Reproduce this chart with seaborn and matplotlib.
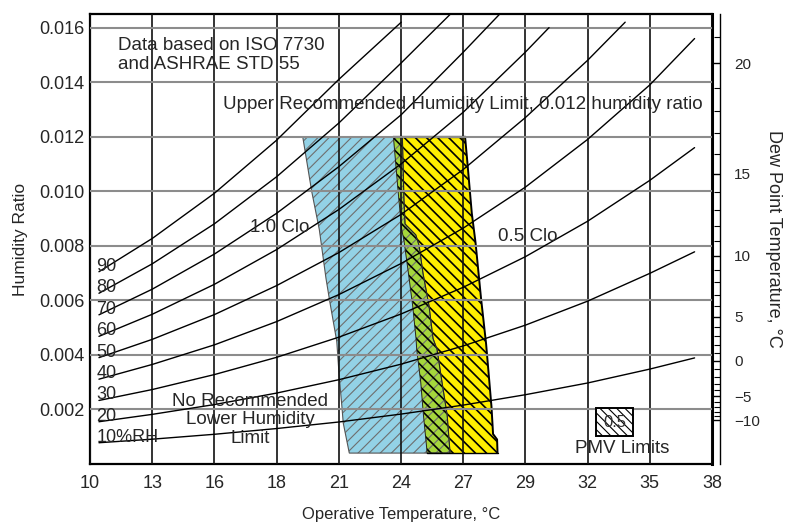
import matplotlib
matplotlib.use("Agg")
import matplotlib.pyplot as plt
import seaborn as sns
import pandas as pd
from matplotlib.patches import Rectangle
from matplotlib.ticker import FixedLocator

# ---------------- data ----------------
temp_ticks_f = [50, 55, 60, 65, 70, 75, 80, 85, 90, 95, 100]
temp_tick_labels = ["10", "13", "16", "18", "21", "24", "27", "29", "32", "35", "38"]
w_ticks = [0.002, 0.004, 0.006, 0.008, 0.010, 0.012, 0.014, 0.016]
w_tick_labels = ["0.002", "0.004", "0.006", "0.008", "0.010", "0.012", "0.014", "0.016"]

dew_point_labels = ["\u221210", "\u22125", "0", "5", "10", "15", "20"]
dew_point_w = [0.00160, 0.00248, 0.00378, 0.00540, 0.00763, 0.01065, 0.01470]
dew_minor_w = [0.00175, 0.00191, 0.00208, 0.00227, 0.00270, 0.00294, 0.00319, 0.00347,
               0.00406, 0.00436, 0.00469, 0.00503, 0.00580, 0.00621, 0.00666, 0.00713,
               0.00817, 0.00873, 0.00933, 0.00997, 0.01137, 0.01213, 0.01294, 0.01379,
               0.01566]

# relative humidity curves (humidity ratio at the grid temperatures, then an end point)
rh_temps = [10.4, 12.78, 15.56, 18.33, 21.11, 23.89, 26.67, 29.44, 32.22, 35.0]
rh_levels = [10, 20, 30, 40, 50, 60, 70, 80, 90]
rh_labels = ["10%RH", "20", "30", "40", "50", "60", "70", "80", "90"]
rh_10 = [0.00078, 0.00091, 0.00109, 0.00130, 0.00154, 0.00183, 0.00216, 0.00254, 0.00297, 0.00348]
rh_20 = [0.00155, 0.00182, 0.00218, 0.00260, 0.00309, 0.00366, 0.00433, 0.00509, 0.00597, 0.00699]
rh_30 = [0.00233, 0.00273, 0.00328, 0.00391, 0.00465, 0.00550, 0.00648, 0.00760, 0.00890, 0.01040]
rh_40 = [0.00311, 0.00365, 0.00437, 0.00522, 0.00621, 0.00735, 0.00865, 0.01015, 0.01190, 0.01390]
rh_50 = [0.00390, 0.00457, 0.00548, 0.00654, 0.00775, 0.00915, 0.01080, 0.01270, 0.01480]
rh_60 = [0.00468, 0.00549, 0.00659, 0.00786, 0.00933, 0.01100, 0.01290, 0.01510]
rh_70 = [0.00547, 0.00641, 0.00770, 0.00919, 0.01090, 0.01280, 0.01510]
rh_80 = [0.00626, 0.00734, 0.00881, 0.01053, 0.01250, 0.01470]
rh_90 = [0.00705, 0.00827, 0.00993, 0.01187, 0.01410]
rh_end_t = [37.0, 37.0, 37.0, 37.0, 33.9, 30.5, 28.3, 26.1, 23.9]
rh_end_w = [0.00389, 0.00778, 0.0116, 0.0156, 0.0162, 0.0160, 0.0165, 0.0165, 0.0162]

# comfort zones (PMV limits) -- 1.0 clo and 0.5 clo, edges listed top to bottom
clo10_left_t = [19.50, 19.90, 20.24, 20.54, 20.72, 21.02, 21.13, 21.24, 21.31, 21.58]
clo10_left_w = [0.0120, 0.0100, 0.0086, 0.0068, 0.0059, 0.0045, 0.0032, 0.0022, 0.0015, 0.0004]
clo10_right_t = [23.95, 24.02, 24.07, 24.55, 24.70, 24.87, 25.14, 25.32, 25.50, 25.72, 25.95, 26.08]
clo10_right_w = [0.0120, 0.0097, 0.0088, 0.0084, 0.0080, 0.0070, 0.0058, 0.0046, 0.0042, 0.0030, 0.0018, 0.0004]
clo05_left_t = [23.55, 23.76, 23.92, 24.02, 24.22, 24.41, 24.56, 24.59, 24.77, 24.89, 25.04, 25.05]
clo05_left_w = [0.0120, 0.0100, 0.0086, 0.0082, 0.0070, 0.0058, 0.0046, 0.0042, 0.0030, 0.0018, 0.00056, 0.0004]
clo05_right_t = [26.75, 26.86, 27.05, 27.22, 27.46, 27.69, 27.93, 28.00, 28.18, 28.20]
clo05_right_w = [0.0120, 0.0110, 0.0092, 0.0081, 0.0061, 0.0044, 0.0021, 0.0011, 0.0009, 0.0004]

# ---------------- style ----------------
sns.set_theme(style="white")
plt.rcParams["font.family"] = ["Liberation Sans", "DejaVu Sans"]
plt.rcParams["axes.unicode_minus"] = True

fig = plt.figure(figsize=(7.86, 5.24), dpi=100)
ax = fig.add_axes([90 / 786, 60 / 524, 622 / 786, 450 / 524])

BLUE = "#93D2E6"
YELLOW = "#FFEF00"
GREEN = "#A5D63C"

# ---------------- comfort zones ----------------
blue_t = clo10_left_t + clo10_right_t[::-1]
blue_w = clo10_left_w + clo10_right_w[::-1]
yel_t = clo05_left_t + clo05_right_t[::-1]
yel_w = clo05_left_w + clo05_right_w[::-1]
grn_t = clo05_left_t + clo10_right_t[::-1]
grn_w = clo05_left_w + clo10_right_w[::-1]

ax.fill(blue_t, blue_w, facecolor=BLUE, edgecolor="none", zorder=1.0)
ax.fill(yel_t, yel_w, facecolor=YELLOW, edgecolor="none", zorder=1.1)
ax.fill(grn_t, grn_w, facecolor=GREEN, edgecolor="none", zorder=1.2)


def hatch_fill(t, w, hatch, color, lw, z):
    with plt.rc_context({"hatch.linewidth": lw, "hatch.color": color}):
        p = ax.fill(t, w, facecolor="none", edgecolor=color, linewidth=0, hatch=hatch, zorder=z)[0]
    try:
        p.set_hatch_linewidth(lw)
    except AttributeError:
        pass
    return p


hatch_fill(blue_t, blue_w, "///", "#6e6e6e", 0.8, 1.3)
hatch_fill(yel_t, yel_w, "\\\\\\", "black", 1.2, 1.4)

ax.fill(blue_t, blue_w, facecolor="none", edgecolor="#555555", linewidth=0.8, zorder=1.5)
ax.fill(grn_t, grn_w, facecolor="none", edgecolor="#222222", linewidth=0.7, zorder=1.55)
ax.plot(clo05_right_t, clo05_right_w, color="black", linewidth=1.4, zorder=1.6)
ax.plot([clo05_left_t[0], clo05_right_t[0]], [clo05_left_w[0], clo05_right_w[0]],
        color="black", linewidth=1.6, zorder=1.6)
ax.plot([clo05_left_t[-1], clo05_right_t[-1]], [clo05_left_w[-1], clo05_right_w[-1]],
        color="black", linewidth=1.0, zorder=1.6)

# ---------------- RH curves ----------------
rh_series = [rh_10, rh_20, rh_30, rh_40, rh_50, rh_60, rh_70, rh_80, rh_90]
rows = []
for lvl, ws, te, we in zip(rh_levels, rh_series, rh_end_t, rh_end_w):
    ts = rh_temps[:len(ws)] + [te]
    for t, w in zip(ts, ws + [we]):
        rows.append({"T": t, "W": w, "rh": lvl})
df = pd.DataFrame(rows)
sns.lineplot(data=df, x="T", y="W", units="rh", estimator=None, sort=False,
             color="black", linewidth=1.0, ax=ax, zorder=4, legend=False)

for lbl, ws in zip(rh_labels, rh_series):
    ax.annotate(lbl, xy=(rh_temps[0], ws[0]), xytext=(-2, 4), textcoords="offset points",
                ha="left", va="center", fontsize=13, zorder=5)

# ---------------- axes ----------------
x_ticks = [(f - 32) * 5 / 9 for f in temp_ticks_f]
ax.set_xlim(x_ticks[0], x_ticks[-1])
ax.set_ylim(0, 0.0165)
ax.set_xticks(x_ticks)
ax.set_xticklabels(temp_tick_labels)
ax.set_yticks(w_ticks)
ax.set_yticklabels(w_tick_labels)
ax.tick_params(axis="x", length=0, pad=8, labelsize=13)
ax.tick_params(axis="y", length=0, pad=4, labelsize=13)
ax.set_axisbelow(False)
ax.xaxis.grid(True, color="#111111", linewidth=1.2)
ax.yaxis.grid(True, color="#8c8c8c", linewidth=1.5)
for s in ax.spines.values():
    s.set_color("black")
    s.set_linewidth(1.6)
ax.spines["right"].set_linewidth(2.2)
ax.set_xlabel("Operative Temperature, \u00b0C", fontsize=12, labelpad=11)
ax.set_ylabel("Humidity Ratio", fontsize=12.5, labelpad=8)

ax2 = ax.twinx()
ax2.set_ylim(ax.get_ylim())
ax2.set_yticks(dew_point_w)
ax2.set_yticklabels(dew_point_labels)
ax2.yaxis.set_minor_locator(FixedLocator(dew_minor_w))
for k in ["top", "left", "bottom"]:
    ax2.spines[k].set_visible(False)
ax2.spines["right"].set_position(("outward", 6))
ax2.spines["right"].set_linewidth(1.0)
ax2.spines["right"].set_color("black")
ax2.tick_params(axis="y", which="major", direction="in", length=6, width=1.0,
                color="black", labelsize=11, pad=10)
ax2.tick_params(axis="y", which="minor", direction="in", length=4, width=0.8, color="black")
ax2.set_ylabel("Dew Point Temperature, \u00b0C", fontsize=13, rotation=-90, labelpad=16)
ax2.grid(False)

# ---------------- annotations ----------------
ax.text(11.25, 0.0150, "Data based on ISO 7730\nand ASHRAE STD 55", ha="left", va="center",
        fontsize=13.5, linespacing=1.2, zorder=6)
ax.text(15.94, 0.01318, "Upper Recommended Humidity Limit, 0.012 humidity ratio",
        ha="left", va="center", fontsize=13.5, zorder=6)
ax.text(18.49, 0.00868, "1.0 Clo", ha="center", va="center", fontsize=13.5, zorder=6)
ax.text(29.56, 0.00835, "0.5 Clo", ha="center", va="center", fontsize=13.5, zorder=6)
ax.text(17.15, 0.00162, "No Recommended\nLower Humidity\nLimit", ha="center", va="center",
        fontsize=13.5, linespacing=1.1, zorder=6)
ax.text(33.76, 0.00056, "PMV Limits", ha="center", va="center", fontsize=13.5, zorder=6)

with plt.rc_context({"hatch.linewidth": 0.8, "hatch.color": "#777777"}):
    box = Rectangle((32.60, 0.00101), 1.67, 0.00104, facecolor="white", edgecolor="black",
                    linewidth=1.4, hatch="\\\\\\\\", zorder=6)
ax.add_patch(box)
try:
    box.set_hatch_linewidth(0.8)
except AttributeError:
    pass
ax.text(33.45, 0.00153, "0.5", ha="center", va="center", fontsize=12, color="#333333", zorder=7)

fig.savefig("out.png", dpi=100)
